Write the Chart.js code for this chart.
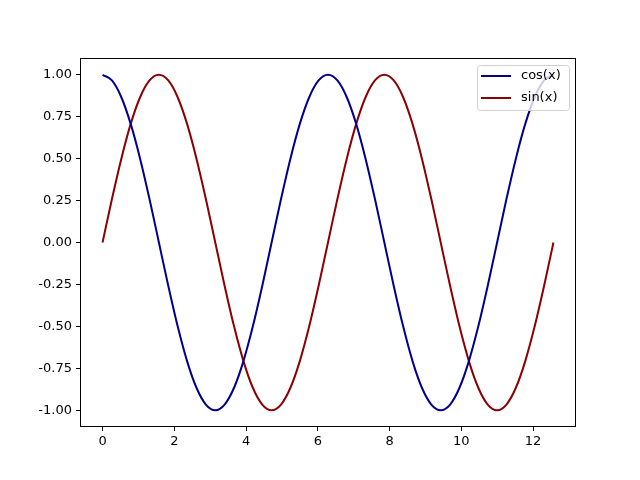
<!DOCTYPE html>
<html>
<head>
<meta charset="utf-8">
<script src="https://cdn.jsdelivr.net/npm/chart.js@4"></script>
<style>
  html, body { margin: 0; padding: 0; background: #fff; }
  #wrap { width: 640px; height: 480px; }
</style>
</head>
<body>
<div id="wrap"><canvas id="chart" width="640" height="480"></canvas></div>
<script>
// x positions (0 .. 4*pi)
const xValues = [0, 0.262, 0.524, 0.785, 1.047, 1.309, 1.571, 1.833, 2.094, 2.356, 2.618, 2.880,
  3.142, 3.403, 3.665, 3.927, 4.189, 4.451, 4.712, 4.974, 5.236, 5.498, 5.760, 6.021,
  6.283, 6.545, 6.807, 7.069, 7.330, 7.592, 7.854, 8.116, 8.378, 8.639, 8.901, 9.163,
  9.425, 9.687, 9.948, 10.210, 10.472, 10.734, 10.996, 11.257, 11.519, 11.781, 12.043, 12.305, 12.566];

const cosValues = [1, 0.966, 0.866, 0.707, 0.5, 0.259, 0, -0.259, -0.5, -0.707, -0.866, -0.966,
  -1, -0.966, -0.866, -0.707, -0.5, -0.259, 0, 0.259, 0.5, 0.707, 0.866, 0.966,
  1, 0.966, 0.866, 0.707, 0.5, 0.259, 0, -0.259, -0.5, -0.707, -0.866, -0.966,
  -1, -0.966, -0.866, -0.707, -0.5, -0.259, 0, 0.259, 0.5, 0.707, 0.866, 0.966, 1];

const sinValues = [0, 0.259, 0.5, 0.707, 0.866, 0.966, 1, 0.966, 0.866, 0.707, 0.5, 0.259,
  0, -0.259, -0.5, -0.707, -0.866, -0.966, -1, -0.966, -0.866, -0.707, -0.5, -0.259,
  0, 0.259, 0.5, 0.707, 0.866, 0.966, 1, 0.966, 0.866, 0.707, 0.5, 0.259,
  0, -0.259, -0.5, -0.707, -0.866, -0.966, -1, -0.966, -0.866, -0.707, -0.5, -0.259, 0];

const seriesLabels = ["cos(x)", "sin(x)"];
const xTicks = [0, 2, 4, 6, 8, 10, 12];
const yTicks = [-1.0, -0.75, -0.5, -0.25, 0, 0.25, 0.5, 0.75, 1.0];

const FONT = "'DejaVu Sans', sans-serif";

function toPoints(ys) {
  return xValues.map((x, i) => ({ x: x, y: ys[i] }));
}

// frame round the plot area (matplotlib style box)
const framePlugin = {
  id: "frame",
  afterDraw(chart) {
    const a = chart.chartArea, ctx = chart.ctx;
    ctx.save();
    ctx.strokeStyle = "#000";
    ctx.lineWidth = 1;
    ctx.strokeRect(Math.round(a.left) + 0.5, Math.round(a.top) + 0.5,
      Math.round(a.right - a.left) - 1, Math.round(a.bottom - a.top) - 1);
    ctx.restore();
  }
};

// legend box in the upper right corner
const legendPlugin = {
  id: "boxLegend",
  afterDraw(chart) {
    const a = chart.chartArea, ctx = chart.ctx;
    const w = 92, h = 45, x = a.right - 7 - w, y = a.top + 7;
    ctx.save();
    ctx.beginPath();
    ctx.roundRect(x + 0.5, y + 0.5, w, h, 3);
    ctx.fillStyle = "rgba(255,255,255,0.8)";
    ctx.fill();
    ctx.strokeStyle = "#d0d0d0";
    ctx.lineWidth = 1;
    ctx.stroke();
    ctx.font = "13px " + FONT;
    ctx.textBaseline = "middle";
    chart.data.datasets.forEach((ds, i) => {
      const ry = y + 11 + i * 22;
      ctx.strokeStyle = ds.borderColor;
      ctx.lineWidth = 2;
      ctx.beginPath();
      ctx.moveTo(x + 4, ry);
      ctx.lineTo(x + 34, ry);
      ctx.stroke();
      ctx.fillStyle = "#000";
      ctx.fillText(ds.label, x + 44, ry);
    });
    ctx.restore();
  }
};

new Chart(document.getElementById("chart"), {
  type: "line",
  data: {
    datasets: [
      { label: seriesLabels[0], data: toPoints(cosValues), borderColor: "#00008b",
        borderWidth: 2, pointRadius: 0, cubicInterpolationMode: "monotone", fill: false },
      { label: seriesLabels[1], data: toPoints(sinValues), borderColor: "#8b0000",
        borderWidth: 2, pointRadius: 0, cubicInterpolationMode: "monotone", fill: false }
    ]
  },
  options: {
    responsive: false,
    animation: false,
    layout: { padding: { top: 58, right: 64, left: 0, bottom: 0 } },
    plugins: { legend: { display: false }, tooltip: { enabled: false } },
    scales: {
      x: {
        type: "linear",
        min: -0.628, max: 13.195,
        afterBuildTicks(scale) { scale.ticks = xTicks.map(v => ({ value: v })); },
        afterFit(scale) { scale.height = 53; },
        grid: { drawOnChartArea: false, drawTicks: true, tickLength: 4, tickColor: "#000" },
        border: { display: false },
        ticks: { color: "#000", padding: 3, maxRotation: 0, font: { family: FONT, size: 13 },
          callback: v => String(v) }
      },
      y: {
        type: "linear",
        min: -1.1, max: 1.1,
        afterBuildTicks(scale) { scale.ticks = yTicks.map(v => ({ value: v })); },
        afterFit(scale) { scale.width = 80; },
        grid: { drawOnChartArea: false, drawTicks: true, tickLength: 4, tickColor: "#000" },
        border: { display: false },
        ticks: { color: "#000", padding: 4, font: { family: FONT, size: 13 },
          callback: v => Number(v).toFixed(2) }
      }
    }
  },
  plugins: [framePlugin, legendPlugin]
});
</script>
</body>
</html>
